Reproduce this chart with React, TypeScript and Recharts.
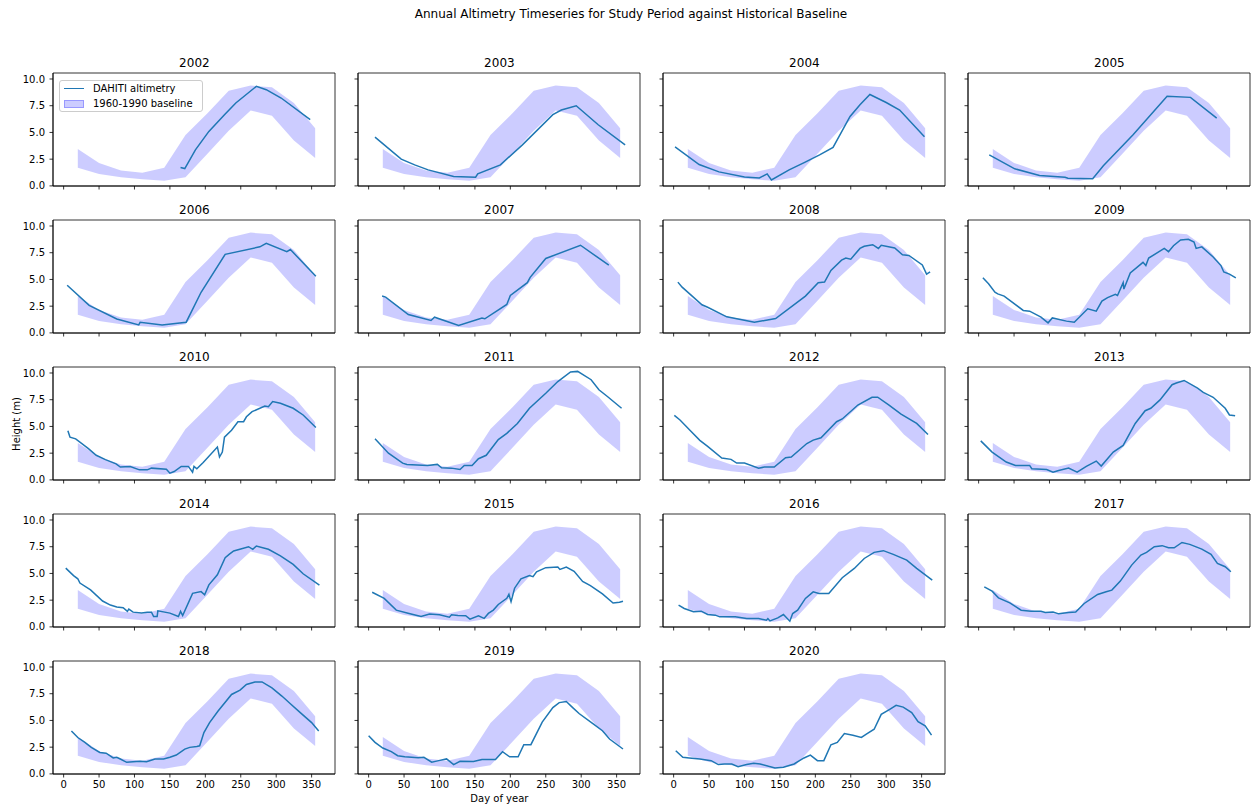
import React from 'react';
import { ComposedChart, Line, Area, XAxis, YAxis, ReferenceArea, Legend } from 'recharts';

// ---- text ----
const FIG_TITLE = 'Annual Altimetry Timeseries for Study Period against Historical Baseline';
const X_LABEL = 'Day of year';
const Y_LABEL = 'Height (m)';
const LINE_NAME = 'DAHITI altimetry';
const BAND_NAME = '1960-1990 baseline';

// ---- axes ----
const X_TICKS = [0, 50, 100, 150, 200, 250, 300, 350];
const Y_TICKS = [0, 2.5, 5, 7.5, 10];
const X_DOMAIN: [number, number] = [-15, 383];
const Y_DOMAIN: [number, number] = [-0.01, 10.56];

// ---- 1960-1990 baseline envelope (day of year, low, high) ----
const BASELINE_DAYS = [20, 50, 81, 111, 142, 172, 203, 233, 264, 294, 325, 355];
const BASELINE_LOW = [1.7, 1.12, 0.8, 0.62, 0.47, 0.8, 3.0, 5.15, 7.05, 6.55, 4.25, 2.6];
const BASELINE_HIGH = [3.45, 2.15, 1.45, 1.22, 1.7, 4.75, 6.8, 8.9, 9.38, 9.22, 7.75, 5.4];

// ---- DAHITI altimetry per year: [day of year, height m] ----
const ALT_2002 = [[165, 1.72], [171, 1.62], [186, 3.37], [205, 5.1], [227, 6.66], [243, 7.75], [272, 9.31], [286, 9.0], [307, 8.22], [348, 6.19]];
const ALT_2003 = [[9, 4.56], [46, 2.5], [65, 1.97], [84, 1.5], [120, 0.88], [151, 0.81], [154, 1.13], [186, 1.97], [217, 3.84], [260, 6.66], [272, 7.1], [293, 7.5], [324, 5.72], [362, 3.84]];
const ALT_2004 = [[2, 3.65], [36, 2.0], [64, 1.31], [100, 0.84], [121, 0.75], [132, 1.12], [138, 0.56], [163, 1.5], [185, 2.2], [206, 2.9], [225, 3.6], [249, 6.5], [263, 7.6], [277, 8.55], [300, 7.8], [319, 7.1], [354, 4.6]];
const ALT_2005 = [[15, 2.9], [51, 1.6], [86, 0.97], [122, 0.81], [126, 0.72], [161, 0.66], [176, 1.88], [218, 4.78], [266, 8.38], [299, 8.28], [336, 6.34]];
const ALT_2006 = [[5, 4.45], [36, 2.57], [75, 1.3], [106, 0.75], [108, 1.0], [139, 0.75], [173, 1.0], [194, 3.8], [228, 7.35], [277, 8.05], [286, 8.37], [315, 7.6], [320, 7.8], [356, 5.3]];
const ALT_2007 = [[19, 3.45], [24, 3.35], [56, 1.72], [88, 1.16], [93, 1.47], [127, 0.69], [160, 1.38], [164, 1.32], [195, 2.66], [200, 3.5], [224, 4.7], [228, 5.2], [250, 6.96], [299, 8.2], [339, 6.33]];
const ALT_2008 = [[6, 4.75], [12, 4.28], [40, 2.63], [48, 2.4], [75, 1.5], [114, 1.0], [144, 1.34], [186, 3.44], [204, 4.7], [213, 4.75], [222, 5.85], [237, 6.8], [243, 7.0], [250, 6.9], [263, 7.9], [269, 8.1], [281, 8.25], [289, 7.9], [293, 8.2], [312, 7.95], [323, 7.3], [332, 7.25], [351, 6.35], [357, 5.5], [362, 5.7]];
const ALT_2009 = [[6, 5.15], [14, 4.6], [23, 3.8], [27, 3.65], [36, 3.44], [63, 2.1], [72, 2.03], [88, 1.47], [98, 0.94], [104, 1.4], [124, 1.1], [135, 1.0], [154, 2.25], [166, 2.03], [174, 2.97], [182, 3.3], [193, 3.6], [196, 3.5], [204, 4.7], [205, 4.1], [214, 5.6], [232, 6.6], [236, 6.3], [240, 7.0], [262, 7.9], [268, 7.6], [275, 8.15], [285, 8.7], [296, 8.75], [304, 8.5], [307, 7.9], [315, 8.05], [331, 7.1], [342, 6.3], [346, 5.7], [354, 5.5], [363, 5.15]];
const ALT_2010 = [[6, 4.6], [9, 4.0], [17, 3.84], [35, 2.92], [46, 2.3], [59, 1.9], [74, 1.5], [80, 1.2], [94, 1.26], [107, 0.94], [118, 0.94], [124, 1.1], [145, 1.0], [150, 0.63], [156, 0.78], [166, 1.26], [176, 1.26], [182, 0.72], [184, 1.26], [188, 1.04], [197, 1.63], [217, 3.08], [220, 2.14], [224, 2.6], [227, 4.0], [237, 4.65], [246, 5.44], [254, 5.44], [258, 5.9], [266, 6.38], [284, 6.9], [289, 6.85], [295, 7.33], [306, 7.17], [324, 6.7], [338, 6.07], [356, 4.9]];
const ALT_2011 = [[9, 3.84], [28, 2.5], [48, 1.57], [54, 1.45], [83, 1.35], [97, 1.45], [103, 1.13], [117, 1.1], [129, 0.97], [135, 1.35], [146, 1.35], [155, 1.98], [166, 2.3], [183, 3.77], [195, 4.35], [210, 5.28], [227, 6.7], [250, 8.1], [267, 9.2], [285, 10.1], [295, 10.15], [314, 9.37], [325, 8.43], [337, 7.8], [357, 6.7]];
const ALT_2012 = [[1, 6.04], [9, 5.6], [23, 4.65], [37, 3.7], [48, 3.14], [68, 2.04], [81, 1.92], [89, 1.57], [100, 1.57], [120, 1.1], [128, 1.2], [142, 1.2], [158, 2.08], [166, 2.14], [188, 3.4], [197, 3.72], [208, 3.94], [230, 5.44], [238, 5.7], [260, 7.0], [280, 7.73], [288, 7.73], [304, 7.0], [321, 6.16], [343, 5.28], [359, 4.25]];
const ALT_2013 = [[3, 3.65], [19, 2.6], [39, 1.67], [52, 1.35], [72, 1.35], [75, 1.04], [96, 0.97], [105, 0.72], [113, 0.88], [127, 1.1], [139, 0.72], [152, 1.26], [166, 1.76], [173, 1.29], [190, 2.6], [204, 3.22], [221, 5.28], [235, 6.47], [243, 6.7], [256, 7.48], [273, 8.9], [279, 9.06], [290, 9.3], [309, 8.58], [317, 8.18], [331, 7.73], [348, 6.7], [354, 6.07], [362, 6.0]];
const ALT_2014 = [[3, 5.5], [14, 4.8], [20, 4.5], [23, 4.1], [38, 3.46], [55, 2.42], [66, 2.04], [75, 1.86], [84, 1.8], [90, 1.45], [92, 1.67], [98, 1.38], [110, 1.29], [118, 1.38], [124, 1.38], [127, 0.97], [132, 0.97], [133, 1.5], [150, 1.29], [162, 0.97], [165, 1.45], [168, 1.06], [182, 3.14], [194, 3.3], [199, 3.0], [205, 3.93], [217, 4.88], [228, 6.48], [234, 6.8], [240, 7.1], [261, 7.5], [267, 7.26], [272, 7.57], [289, 7.26], [306, 6.64], [324, 5.85], [338, 4.97], [361, 3.9]];
const ALT_2015 = [[5, 3.24], [22, 2.67], [39, 1.57], [57, 1.26], [74, 0.97], [86, 1.2], [100, 1.13], [114, 0.9], [117, 1.13], [126, 1.06], [137, 1.04], [143, 0.72], [155, 1.04], [163, 0.79], [169, 1.26], [176, 1.57], [183, 2.1], [195, 2.67], [198, 3.05], [201, 2.36], [206, 3.62], [215, 4.5], [227, 4.8], [232, 4.7], [237, 5.16], [250, 5.54], [267, 5.6], [270, 5.37], [279, 5.6], [290, 5.2], [302, 4.25], [313, 3.87], [330, 3.08], [345, 2.23], [354, 2.3], [359, 2.4]];
const ALT_2016 = [[7, 2.03], [15, 1.72], [28, 1.41], [39, 1.47], [48, 1.16], [59, 1.1], [65, 0.94], [87, 0.94], [103, 0.78], [120, 0.78], [131, 0.63], [133, 0.78], [136, 0.56], [147, 0.84], [155, 1.16], [164, 0.53], [168, 1.25], [175, 1.56], [186, 2.66], [197, 3.28], [205, 3.13], [219, 3.13], [238, 4.6], [255, 5.47], [269, 6.4], [283, 6.97], [296, 7.13], [310, 6.78], [329, 6.25], [343, 5.47], [365, 4.38]];
const ALT_2017 = [[8, 3.75], [19, 3.34], [28, 2.72], [44, 2.25], [60, 1.56], [74, 1.47], [88, 1.47], [94, 1.34], [105, 1.4], [113, 1.22], [127, 1.34], [137, 1.4], [149, 2.19], [168, 3.03], [180, 3.28], [188, 3.44], [200, 4.28], [216, 5.78], [229, 6.72], [237, 6.97], [248, 7.5], [259, 7.6], [268, 7.4], [276, 7.4], [287, 7.9], [298, 7.72], [315, 7.28], [328, 6.78], [337, 5.94], [348, 5.63], [356, 5.16]];
const ALT_2018 = [[11, 4.02], [20, 3.4], [30, 2.94], [39, 2.48], [51, 2.0], [60, 1.94], [70, 1.49], [75, 1.55], [80, 1.39], [89, 1.08], [98, 1.14], [108, 1.18], [117, 1.14], [129, 1.39], [141, 1.39], [150, 1.55], [159, 1.76], [171, 2.32], [178, 2.48], [188, 2.57], [192, 2.63], [198, 3.87], [206, 4.8], [218, 5.88], [237, 7.43], [249, 7.83], [258, 8.36], [270, 8.6], [280, 8.6], [294, 8.05], [308, 7.28], [320, 6.56], [334, 5.73], [350, 4.8], [360, 4.02]];
const ALT_2019 = [[0, 3.57], [9, 2.95], [20, 2.42], [32, 2.08], [41, 1.7], [51, 1.6], [70, 1.5], [78, 1.55], [89, 1.09], [99, 1.24], [110, 1.4], [120, 0.87], [129, 1.18], [148, 1.15], [160, 1.34], [179, 1.34], [189, 2.08], [199, 1.6], [211, 1.6], [219, 2.73], [229, 2.73], [245, 4.84], [260, 6.2], [269, 6.67], [279, 6.77], [288, 6.2], [297, 5.65], [316, 4.72], [330, 4.04], [340, 3.26], [359, 2.33]];
const ALT_2020 = [[3, 2.17], [13, 1.55], [22, 1.49], [37, 1.39], [53, 1.24], [63, 0.87], [72, 0.93], [82, 0.93], [91, 0.68], [103, 0.87], [113, 0.99], [122, 0.93], [134, 0.71], [143, 0.56], [155, 0.62], [170, 0.93], [184, 1.49], [193, 1.76], [203, 1.24], [212, 1.24], [222, 2.72], [231, 2.94], [241, 3.78], [253, 3.62], [265, 3.41], [272, 3.72], [283, 4.18], [293, 5.57], [305, 6.04], [314, 6.41], [324, 6.25], [336, 5.73], [345, 4.89], [355, 4.49], [364, 3.62]];

const YEARS = [2002, 2003, 2004, 2005, 2006, 2007, 2008, 2009, 2010, 2011, 2012, 2013, 2014, 2015, 2016, 2017, 2018, 2019, 2020];
const SERIES_BY_YEAR: Record<number, number[][]> = {
  2002: ALT_2002, 2003: ALT_2003, 2004: ALT_2004, 2005: ALT_2005, 2006: ALT_2006,
  2007: ALT_2007, 2008: ALT_2008, 2009: ALT_2009, 2010: ALT_2010, 2011: ALT_2011,
  2012: ALT_2012, 2013: ALT_2013, 2014: ALT_2014, 2015: ALT_2015, 2016: ALT_2016,
  2017: ALT_2017, 2018: ALT_2018, 2019: ALT_2019, 2020: ALT_2020,
};

// ---- layout (px) ----
const FONT = '"DejaVu Sans", Verdana, sans-serif';
const N_COLS = 4;
const FRAME_W = 282;
const FRAME_H = 113;
const FRAME_LEFT0 = 53.4;
const FRAME_TOP0 = 73.3;
const COL_STEP = 305;
const ROW_STEP = 146.85;
const AXIS_W = 40;
const AXIS_H = 24;
const PAD = 2;

const LINE_COLOR = '#1f77b4';
const BAND_COLOR = '#0000ff';

type Row = { day: number; h?: number; band?: [number, number] };

// Merge the baseline envelope and one year of altimetry on a shared day axis.
function buildRows(alt: number[][]): Row[] {
  const byDay = new Map<number, Row>();
  BASELINE_DAYS.forEach((d, i) => {
    byDay.set(d, { day: d, band: [BASELINE_LOW[i], BASELINE_HIGH[i]] });
  });
  alt.forEach(([d, v]) => {
    const r = byDay.get(d) || { day: d };
    r.h = v;
    byDay.set(d, r);
  });
  return Array.from(byDay.values()).sort((a, b) => a.day - b.day);
}

function LegendBox() {
  return (
    <div
      style={{
        width: 142,
        height: 30,
        border: '1px solid #cccccc',
        borderRadius: 3,
        background: 'rgba(255,255,255,0.8)',
        fontFamily: FONT,
        fontSize: 10,
        color: '#000',
        position: 'relative',
      }}
    >
      <div style={{ position: 'absolute', left: 4, top: 7, width: 20, height: 1.5, background: LINE_COLOR }} />
      <div style={{ position: 'absolute', left: 33, top: 1, lineHeight: '13px', whiteSpace: 'nowrap' }}>{LINE_NAME}</div>
      <div
        style={{
          position: 'absolute',
          left: 4,
          top: 19,
          width: 20,
          height: 8,
          background: 'rgba(0,0,255,0.2)',
          border: '0.5px solid rgba(0,0,255,0.25)',
          boxSizing: 'border-box',
        }}
      />
      <div style={{ position: 'absolute', left: 33, top: 16, lineHeight: '13px', whiteSpace: 'nowrap' }}>{BAND_NAME}</div>
    </div>
  );
}

const axisStroke = { stroke: '#000', strokeWidth: 0.8 };
const tickStyle = { fontSize: 10, fill: '#000', fontFamily: FONT };

function Panel({ year, index, nRows }: { year: number; index: number; nRows: number }) {
  const row = Math.floor(index / N_COLS);
  const col = index % N_COLS;
  const frameLeft = FRAME_LEFT0 + col * COL_STEP;
  const frameTop = FRAME_TOP0 + row * ROW_STEP;
  const showY = col === 0;
  const showX = row === nRows - 1;
  const rows = buildRows(SERIES_BY_YEAR[year]);

  return (
    <>
      <div
        style={{
          position: 'absolute',
          left: frameLeft,
          top: frameTop - 17,
          width: FRAME_W,
          textAlign: 'center',
          fontFamily: FONT,
          fontSize: 12,
          lineHeight: '14px',
          color: '#000',
        }}
      >
        {year}
      </div>
      <div style={{ position: 'absolute', left: frameLeft - AXIS_W, top: frameTop - PAD }}>
        <ComposedChart
          width={AXIS_W + FRAME_W + PAD}
          height={PAD + FRAME_H + AXIS_H}
          data={rows}
          margin={{ top: PAD, right: PAD, bottom: 0, left: 0 }}
        >
          <XAxis
            dataKey="day"
            type="number"
            domain={X_DOMAIN}
            ticks={X_TICKS}
            interval={0}
            allowDataOverflow
            height={AXIS_H}
            tickSize={3.5}
            tickMargin={3}
            axisLine={axisStroke}
            tickLine={axisStroke}
            tick={tickStyle}
            tickFormatter={(v: number) => (showX ? String(v) : '')}
          />
          <YAxis
            type="number"
            domain={Y_DOMAIN}
            ticks={Y_TICKS}
            interval={0}
            allowDataOverflow
            width={AXIS_W}
            tickSize={3.5}
            tickMargin={4.5}
            axisLine={axisStroke}
            tickLine={axisStroke}
            tick={tickStyle}
            tickFormatter={(v: number) => (showY ? v.toFixed(1) : '')}
          />
          <Line
            dataKey="h"
            name={LINE_NAME}
            type="linear"
            stroke={LINE_COLOR}
            strokeWidth={1.5}
            dot={false}
            activeDot={false}
            connectNulls
            isAnimationActive={false}
          />
          <Area
            dataKey="band"
            name={BAND_NAME}
            type="linear"
            fill={BAND_COLOR}
            fillOpacity={0.2}
            stroke="none"
            dot={false}
            activeDot={false}
            connectNulls
            isAnimationActive={false}
          />
          <ReferenceArea
            x1={X_DOMAIN[0]}
            x2={X_DOMAIN[1]}
            y1={Y_DOMAIN[0]}
            y2={Y_DOMAIN[1]}
            fill="none"
            stroke="#000"
            strokeWidth={0.8}
            ifOverflow="visible"
          />
          {index === 0 && (
            <Legend
              layout="vertical"
              align="center"
              verticalAlign="middle"
              content={() => <LegendBox />}
              wrapperStyle={{ left: AXIS_W + 5.6, top: PAD + 6.7, width: 144, height: 32 }}
            />
          )}
        </ComposedChart>
      </div>
    </>
  );
}

export default function App() {
  const nRows = Math.ceil(YEARS.length / N_COLS);
  return (
    <div
      style={{
        position: 'absolute',
        left: 0,
        top: 0,
        width: 1251,
        height: 810,
        background: '#fff',
        overflow: 'hidden',
        fontFamily: FONT,
      }}
    >
      <div
        style={{
          position: 'absolute',
          left: 0,
          top: 7,
          width: 1262,
          textAlign: 'center',
          fontSize: 12,
          lineHeight: '14px',
          color: '#000',
        }}
      >
        {FIG_TITLE}
      </div>
      {YEARS.map((y, i) => (
        <Panel key={y} year={y} index={i} nRows={nRows} />
      ))}
      <div
        style={{
          position: 'absolute',
          left: FRAME_LEFT0 + COL_STEP,
          top: 793,
          width: FRAME_W,
          textAlign: 'center',
          fontSize: 10,
          lineHeight: '12px',
          color: '#000',
        }}
      >
        {X_LABEL}
      </div>
      <div
        style={{
          position: 'absolute',
          left: 17 - 50,
          top: FRAME_TOP0 + 2 * ROW_STEP + FRAME_H / 2 - 6,
          width: 100,
          textAlign: 'center',
          fontSize: 10,
          lineHeight: '12px',
          color: '#000',
          transform: 'rotate(-90deg)',
        }}
      >
        {Y_LABEL}
      </div>
    </div>
  );
}
